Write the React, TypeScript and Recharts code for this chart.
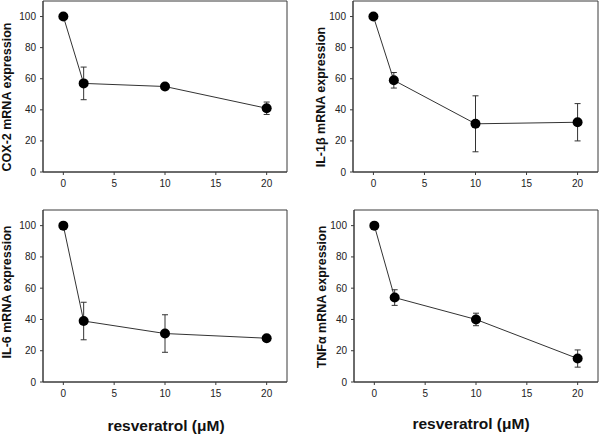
import { LineChart, Line, XAxis, YAxis, ErrorBar, ReferenceArea } from 'recharts'

// resveratrol dose (µM)
const doses = [0, 2, 10, 20]

const cox2 = [100, 57, 55, 41]
const cox2Err = [0, 10.5, 0.8, 4]
const il1b = [100, 59, 31, 32]
const il1bErr = [0, 5, 18, 12]
const il6 = [100, 39, 31, 28]
const il6Err = [0, 12, 12, 0.5]
const tnfa = [100, 54, 40, 15]
const tnfaErr = [0, 5, 4, 5.5]

const xTicks = [0, 5, 10, 15, 20]
const yTicks = [0, 20, 40, 60, 80, 100]

const FONT = 'Arial, "Liberation Sans", Helvetica, sans-serif'
const INK = '#3a3a3a'

function rows(vals: number[], errs: number[]) {
  return doses.map((d, i) => ({ x: d, y: vals[i], err: errs[i] }))
}

interface PanelProps {
  vals: number[]
  errs: number[]
  left: number
  top: number
  height: number
  yAxisWidth: number
  marginTop: number
  marginRight: number
}

function Panel({ vals, errs, left, top, height, yAxisWidth, marginTop, marginRight }: PanelProps) {
  const tick = { fontSize: 10, fill: '#222', fontFamily: FONT }
  return (
    <div style={{ position: 'absolute', left, top }}>
      <LineChart
        width={300}
        height={height}
        data={rows(vals, errs)}
        margin={{ top: marginTop, right: marginRight, left: 0, bottom: 0 }}
      >
        <XAxis
          type="number"
          dataKey="x"
          domain={[-2, 22]}
          ticks={xTicks}
          height={28}
          tick={tick}
          tickSize={3}
          tickMargin={5}
          stroke={INK}
          allowDataOverflow
        />
        <YAxis
          type="number"
          domain={[0, 110]}
          ticks={yTicks}
          width={yAxisWidth}
          tick={tick}
          tickSize={3}
          tickMargin={4}
          stroke={INK}
          allowDataOverflow
        />
        <ReferenceArea x1={-2} x2={22} y1={0} y2={110} fill="none" stroke={INK} strokeWidth={1} />
        <Line
          type="linear"
          dataKey="y"
          stroke="#333"
          strokeWidth={1}
          dot={{ r: 5, fill: '#000', stroke: '#000', strokeWidth: 0 }}
          activeDot={false}
          isAnimationActive={false}
        >
          <ErrorBar dataKey="err" width={3} stroke="#333" strokeWidth={1} direction="y" />
        </Line>
      </LineChart>
    </div>
  )
}

function YLabel({ text, cx, cy }: { text: string; cx: number; cy: number }) {
  return (
    <div
      style={{
        position: 'absolute',
        left: cx - 100,
        top: cy - 8,
        width: 200,
        height: 16,
        lineHeight: '16px',
        textAlign: 'center',
        transform: 'rotate(-90deg)',
        fontFamily: FONT,
        fontWeight: 'bold',
        fontSize: 12.5,
        color: '#111',
        whiteSpace: 'nowrap',
      }}
    >
      {text}
    </div>
  )
}

function XLabel({ cx, cy }: { cx: number; cy: number }) {
  return (
    <div
      style={{
        position: 'absolute',
        left: cx - 100,
        top: cy - 10,
        width: 200,
        height: 20,
        lineHeight: '20px',
        textAlign: 'center',
        fontFamily: FONT,
        fontWeight: 'bold',
        fontSize: 15.5,
        color: '#111',
        whiteSpace: 'nowrap',
      }}
    >
      resveratrol (μM)
    </div>
  )
}

export default function App() {
  return (
    <div style={{ position: 'absolute', left: 0, top: 0, width: 600, height: 437, background: '#fff', overflow: 'hidden' }}>
      <Panel vals={cox2} errs={cox2Err} left={0} top={0} height={200} yAxisWidth={43} marginTop={1} marginRight={13} />
      <Panel vals={il1b} errs={il1bErr} left={300} top={0} height={200} yAxisWidth={53} marginTop={1} marginRight={2} />
      <Panel vals={il6} errs={il6Err} left={0} top={200} height={210} yAxisWidth={43} marginTop={10} marginRight={13} />
      <Panel vals={tnfa} errs={tnfaErr} left={300} top={200} height={210} yAxisWidth={54} marginTop={10} marginRight={2} />

      <YLabel text="COX-2 mRNA expression" cx={7} cy={97} />
      <YLabel text="IL-1β mRNA expression" cx={321} cy={97} />
      <YLabel text="IL-6 mRNA expression" cx={7} cy={292} />
      <YLabel text="TNFα mRNA expression" cx={322} cy={297} />

      <XLabel cx={166} cy={426} />
      <XLabel cx={471} cy={424} />
    </div>
  )
}
